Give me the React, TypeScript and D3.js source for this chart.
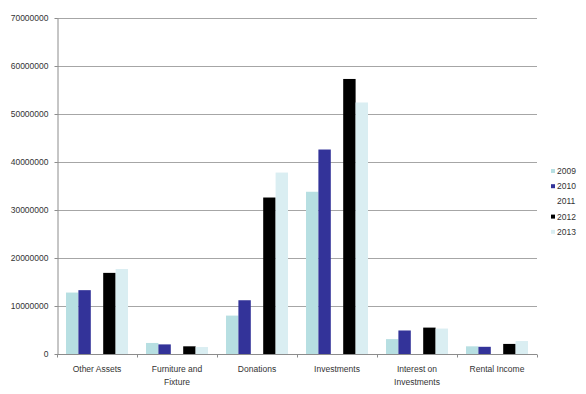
import React, { useEffect, useRef } from 'react';
import * as d3 from 'd3';

const categories = ['Other Assets', 'Furniture and Fixture', 'Donations', 'Investments', 'Interest on Investments', 'Rental Income'];
const years = ['2009', '2010', '2011', '2012', '2013'];
const colors = ['#b7dfe2', '#333399', '#ffffff', '#000000', '#daeef2'];

const v2009 = [12800000, 2300000, 8000000, 33800000, 3100000, 1600000];
const v2010 = [13300000, 2000000, 11200000, 42600000, 4900000, 1500000];
const v2011 = [0, 0, 0, 0, 0, 0];
const v2012 = [16900000, 1600000, 32600000, 57300000, 5500000, 2100000];
const v2013 = [17700000, 1450000, 37800000, 52400000, 5300000, 2700000];
const series = [v2009, v2010, v2011, v2012, v2013];

const yTicks = [0, 10000000, 20000000, 30000000, 40000000, 50000000, 60000000, 70000000];

export default function App() {
	const ref = useRef<SVGSVGElement>(null);

	useEffect(() => {
		const svg = d3.select(ref.current);
		svg.selectAll('*').remove();

		const width = 586, height = 394;
		const margin = { top: 18, right: 49, bottom: 40, left: 57 };
		const font = 'Liberation Sans, Arial, sans-serif';

		svg.append('rect').attr('width', width).attr('height', height).attr('fill', '#fff');

		const x0 = d3.scaleBand().domain(categories).range([margin.left, width - margin.right]);
		const x1 = d3.scaleBand().domain(years).range([9, x0.bandwidth() - 9]);
		const y = d3.scaleLinear().domain([0, 70000000]).range([height - margin.bottom, margin.top]);

		// grid
		svg.append('g')
			.selectAll('line')
			.data(yTicks.slice(1))
			.join('line')
			.attr('x1', margin.left)
			.attr('x2', width - margin.right)
			.attr('y1', d => Math.round(y(d)) + 0.5)
			.attr('y2', d => Math.round(y(d)) + 0.5)
			.attr('stroke', '#a6a6a6');

		// bars
		svg.append('g')
			.selectAll('g')
			.data(categories)
			.join('g')
			.attr('transform', d => 'translate(' + x0(d) + ',0)')
			.selectAll('rect')
			.data((d, i) => years.map((yr, j) => ({ yr, j, v: series[j][i] })))
			.join('rect')
			.attr('x', d => x1(d.yr)!)
			.attr('width', x1.bandwidth())
			.attr('y', d => y(d.v))
			.attr('height', d => y(0) - y(d.v))
			.attr('fill', d => colors[d.j]);

		// y axis
		const yAxis = svg.append('g')
			.attr('transform', 'translate(' + (margin.left + 0.5) + ',0)')
			.call(d3.axisLeft(y).tickValues(yTicks).tickFormat(d => String(d)).tickSize(3).tickSizeOuter(0).tickPadding(6));
		yAxis.select('.domain').attr('stroke', '#8c8c8c');
		yAxis.selectAll('.tick line').attr('stroke', '#8c8c8c');
		yAxis.selectAll('text').attr('font-family', font).attr('font-size', 8.5).attr('fill', '#333');

		// x axis
		const base = Math.round(y(0)) + 0.5;
		svg.append('line')
			.attr('x1', margin.left).attr('x2', width - margin.right)
			.attr('y1', base).attr('y2', base)
			.attr('stroke', '#8c8c8c');
		const bounds = categories.map(c => x0(c)!).concat([width - margin.right]);
		svg.append('g')
			.selectAll('line')
			.data(bounds)
			.join('line')
			.attr('x1', d => Math.round(d) + 0.5)
			.attr('x2', d => Math.round(d) + 0.5)
			.attr('y1', base)
			.attr('y2', base + 3)
			.attr('stroke', '#8c8c8c');

		const labels = svg.append('g')
			.selectAll('text')
			.data(categories)
			.join('text')
			.attr('font-family', font)
			.attr('font-size', 8.5)
			.attr('fill', '#333')
			.attr('text-anchor', 'middle')
			.attr('x', d => x0(d)! + x0.bandwidth() / 2)
			.attr('y', base + 17);
		labels.each(function (d) {
			const words = d.split(' ');
			const lines = d.length > 14 ? [words.slice(0, -1).join(' '), words[words.length - 1]] : [d];
			d3.select(this).selectAll('tspan')
				.data(lines)
				.join('tspan')
				.attr('x', x0(d)! + x0.bandwidth() / 2)
				.attr('dy', (l, i) => (i === 0 ? 0 : 13))
				.text(l => l);
		});

		// legend
		const legend = svg.append('g')
			.selectAll('g')
			.data(years)
			.join('g')
			.attr('transform', (d, i) => 'translate(551,' + (171 + i * 15.2) + ')');
		legend.append('rect')
			.attr('x', 0).attr('y', -2).attr('width', 4).attr('height', 4)
			.attr('fill', (d, i) => colors[i]);
		legend.append('text')
			.attr('x', 6)
			.attr('y', 3)
			.attr('font-family', font)
			.attr('font-size', 8.5)
			.attr('fill', '#333')
			.text(d => d);
	}, []);

	return (
		<svg ref={ref} width={586} height={394} style={{ position: 'absolute', left: 0, top: 0, display: 'block' }}></svg>
	);
}
